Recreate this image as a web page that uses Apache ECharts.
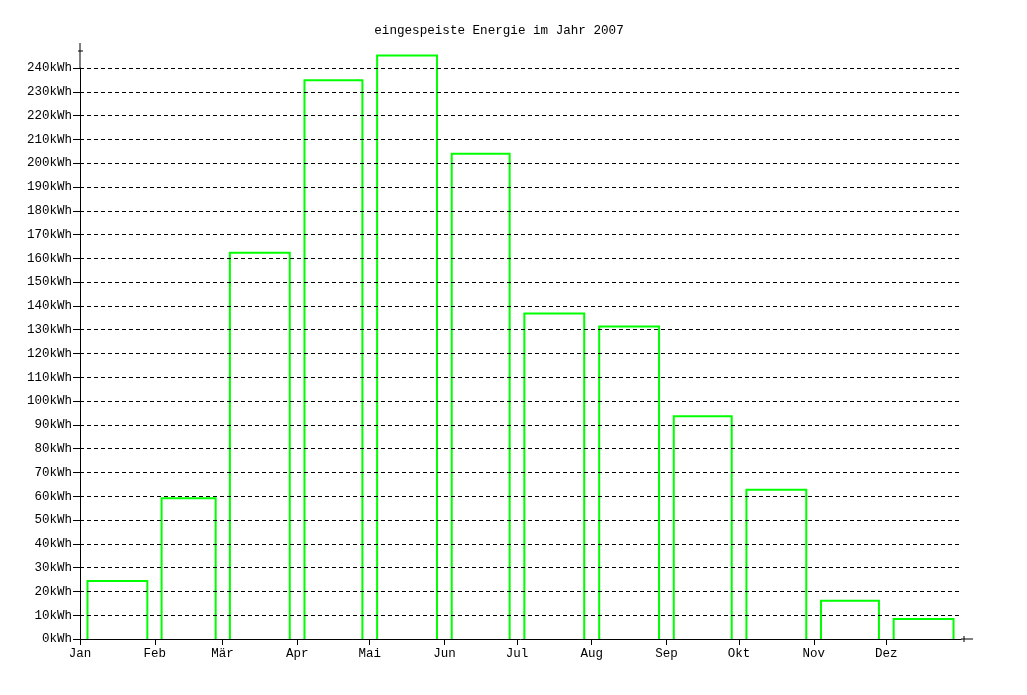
<!DOCTYPE html>
<html>
<head>
<meta charset="utf-8">
<script src="https://cdn.jsdelivr.net/npm/echarts@6/dist/echarts.min.js"></script>
<style>
html,body{margin:0;padding:0;background:#fff;}
#chart{width:1027px;height:695px;}
</style>
</head>
<body>
<div id="chart"></div>
<script>
var titleText = 'eingespeiste Energie im Jahr 2007';
var months = ['Jan','Feb','Mär','Apr','Mai','Jun','Jul','Aug','Sep','Okt','Nov','Dez'];
var daysInMonth = [31,28,31,30,31,30,31,31,30,31,30,31];
var energy = [24.4, 59.2, 162.3, 234.8, 245.3, 204.0, 136.8, 131.3, 93.6, 62.7, 16.1, 8.4];

var monthStart = [];
var acc = 0;
for (var i = 0; i < daysInMonth.length; i++) { monthStart.push(acc); acc += daysInMonth[i]; }
var yearDays = acc;

var data = months.map(function (m, i) { return [monthStart[i], daysInMonth[i], energy[i]]; });

var FONT = '"Liberation Mono", "DejaVu Sans Mono", monospace';
var GREEN = '#00ff00';

var chart = echarts.init(document.getElementById('chart'), null, {renderer: 'canvas'});

var option = {
  animation: false,
  backgroundColor: '#ffffff',
  title: {
    text: titleText,
    left: 494,
    textAlign: 'center',
    top: 19,
    textStyle: {fontFamily: FONT, fontSize: 12.6, fontWeight: 'normal', color: '#000'}
  },
  grid: {left: 80, right: 66, top: 68, bottom: 56, containLabel: false},
  xAxis: {
    type: 'value',
    min: 0,
    max: yearDays,
    z: 5,
    axisLine: {show: true, onZero: false, lineStyle: {color: '#000', width: 1}},
    axisTick: {show: true, length: 6, inside: false, customValues: monthStart, lineStyle: {color: '#000'}},
    axisLabel: {
      show: true,
      customValues: monthStart,
      margin: 8,
      fontFamily: FONT, fontSize: 12.5, color: '#000',
      formatter: function (v) { var k = monthStart.indexOf(v); return k >= 0 ? months[k] : ''; }
    },
    splitLine: {show: false}
  },
  yAxis: {
    type: 'value',
    min: 0,
    max: 240,
    interval: 10,
    z: 5,
    axisLine: {show: true, onZero: false, lineStyle: {color: '#000', width: 1}},
    axisTick: {show: true, length: 7, inside: false, lineStyle: {color: '#000'}},
    axisLabel: {
      margin: 8,
      fontFamily: FONT, fontSize: 12.5, color: '#000',
      formatter: function (v) { return v + 'kWh'; }
    },
    splitLine: {show: true, lineStyle: {color: '#000', type: [4, 3], width: 1}}
  },
  series: [{
    type: 'custom',
    data: data,
    clip: false,
    encode: {x: 0, y: 2},
    renderItem: function (params, api) {
      var start = api.value(0), d = api.value(1), v = api.value(2);
      var c = start + d / 2, h = 0.4 * d;
      var p0 = api.coord([c - h, 0]);
      var p1 = api.coord([c - h, v]);
      var p2 = api.coord([c + h, v]);
      var p3 = api.coord([c + h, 0]);
      return {
        type: 'group',
        children: [
          {type: 'polygon', shape: {points: [p0, p1, p2, p3]}, style: {fill: '#ffffff', stroke: null}},
          {type: 'polyline', shape: {points: [p0, p1, p2, p3]}, style: {fill: null, stroke: GREEN, lineWidth: 2}}
        ]
      };
    }
  }]
};
chart.setOption(option);

// axis extensions (decorations of the axes only)
var o = chart.convertToPixel({gridIndex: 0}, [0, 0]);
var xe = chart.convertToPixel({gridIndex: 0}, [yearDays, 240]);
chart.setOption({
  graphic: [
    {type: 'line', shape: {x1: xe[0], y1: o[1], x2: xe[0] + 12, y2: o[1]}, style: {stroke: '#000', lineWidth: 1}, z: 10},
    {type: 'line', shape: {x1: xe[0] + 3, y1: o[1] - 3, x2: xe[0] + 3, y2: o[1] + 3}, style: {stroke: '#000', lineWidth: 1}, z: 10},
    {type: 'line', shape: {x1: o[0], y1: xe[1], x2: o[0], y2: xe[1] - 25}, style: {stroke: '#000', lineWidth: 1}, z: 10},
    {type: 'line', shape: {x1: o[0] - 2, y1: xe[1] - 17, x2: o[0] + 3, y2: xe[1] - 17}, style: {stroke: '#000', lineWidth: 1}, z: 10}
  ]
});
</script>
</body>
</html>
